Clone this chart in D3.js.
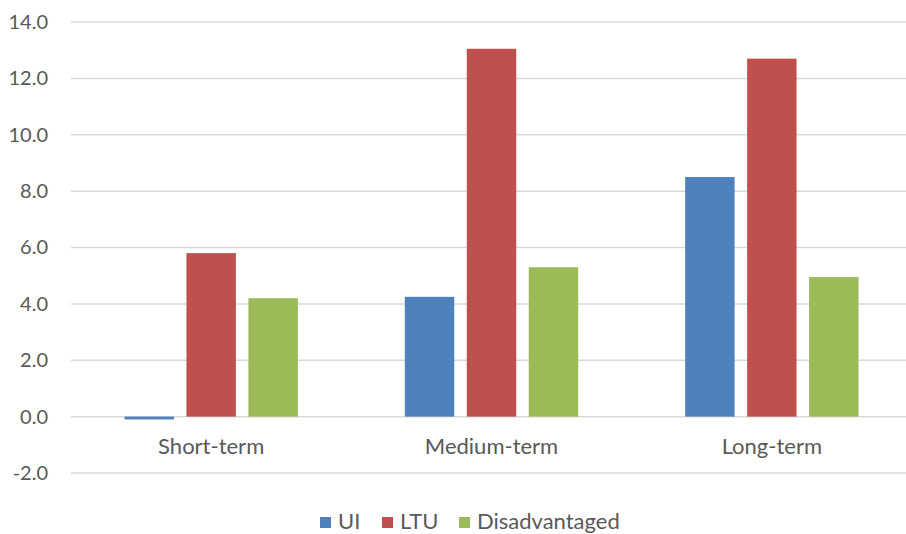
<!DOCTYPE html>
<html>
<head>
<meta charset="utf-8">
<script src="https://cdn.jsdelivr.net/npm/d3@7"></script>
<style>
  html, body { margin: 0; padding: 0; background: #fff; }
  svg { display: block; }
  text { font-family: Lato, "Open Sans", sans-serif; fill: #595959; }
</style>
</head>
<body>
<svg id="chart" width="906" height="534"></svg>
<script>
// Horizon groups and the three comparison series
const categories = ["Short-term", "Medium-term", "Long-term"];
const seriesNames = ["UI", "LTU", "Disadvantaged"];
const uiValues = [-0.1, 4.25, 8.5];
const ltuValues = [5.8, 13.05, 12.7];
const disadvantagedValues = [4.2, 5.3, 4.95];
const yTicks = [-2, 0, 2, 4, 6, 8, 10, 12, 14];
const colors = ["#4f81bd", "#c0504d", "#9bbb59"];

const seriesValues = [uiValues, ltuValues, disadvantagedValues];
const rows = categories.map((c, i) => ({
  category: c,
  values: seriesNames.map((s, j) => ({ series: s, value: seriesValues[j][i], color: colors[j] }))
}));

const svg = d3.select("#chart");
const plot = { left: 71, right: 912, top: 22, bottom: 473 };

const y = d3.scaleLinear().domain([-2, 14]).range([plot.bottom, plot.top]);
const x0 = d3.scaleBand().domain(categories).range([plot.left, plot.right]).padding(0);
const x1 = d3.scaleBand().domain(seriesNames).range([0, x0.bandwidth()])
  .paddingInner(0.202).paddingOuter(0.863);

// Horizontal gridlines
svg.append("g")
  .selectAll("line")
  .data(yTicks)
  .join("line")
  .attr("x1", plot.left)
  .attr("x2", 906)
  .attr("y1", d => y(d))
  .attr("y2", d => y(d))
  .attr("stroke", "#d9d9d9")
  .attr("stroke-width", 1.5);

// Value axis labels (plain hyphen for negatives)
const fmt = d3.format(".1f");
const yAxis = d3.axisLeft(y).tickValues(yTicks)
  .tickFormat(d => fmt(d).replace("\u2212", "-"))
  .tickSize(0).tickPadding(0);
const yG = svg.append("g").attr("transform", "translate(48,0)").call(yAxis);
yG.select(".domain").remove();
yG.selectAll("text").attr("font-size", 20).style("font-family", "Lato, sans-serif").attr("fill", "#595959");

// Bars
const groups = svg.append("g")
  .selectAll("g")
  .data(rows)
  .join("g")
  .attr("transform", d => `translate(${x0(d.category)},0)`);

groups.selectAll("rect")
  .data(d => d.values)
  .join("rect")
  .attr("x", d => x1(d.series))
  .attr("width", x1.bandwidth())
  .attr("y", d => y(Math.max(0, d.value)))
  .attr("height", d => Math.abs(y(d.value) - y(0)))
  .attr("fill", d => d.color);

// Category labels
const xAxis = d3.axisBottom(x0).tickSize(0).tickPadding(0);
const xG = svg.append("g").attr("transform", `translate(0,${y(0)})`).call(xAxis);
xG.select(".domain").remove();
xG.selectAll("text")
  .attr("font-size", 22)
  .attr("dy", null)
  .attr("y", 37)
  .style("font-family", "Lato, sans-serif")
  .attr("fill", "#595959");

// Legend
const legendItems = [
  { name: "UI", x: 320 },
  { name: "LTU", x: 382 },
  { name: "Disadvantaged", x: 459 }
];
const legend = svg.append("g");
legendItems.forEach((item, i) => {
  legend.append("rect")
    .attr("x", item.x).attr("y", 517).attr("width", 11).attr("height", 11)
    .attr("fill", colors[i]);
  legend.append("text")
    .attr("x", item.x + 18).attr("y", 529)
    .attr("font-size", 22)
    .text(item.name);
});
</script>
</body>
</html>
